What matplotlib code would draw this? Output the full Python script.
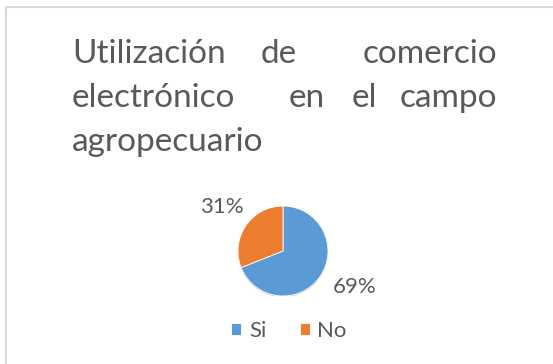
import matplotlib
matplotlib.use("Agg")
from matplotlib import pyplot as plt
from matplotlib.patches import Rectangle

# survey answers
labels = ["Si", "No"]
shares = [69, 31]
colors = ["#5B9BD5", "#ED7D31"]

# title, laid out as justified lines of words
title_lines = [
    ["Utilización", "de", "comercio"],
    ["electrónico", "en", "el", "campo"],
    ["agropecuario"],
]

TEXT = "#595959"
W, H = 553, 364

fig = plt.figure(figsize=(W / 100, H / 100), dpi=100)
fig.patch.set_facecolor("white")

# chart frame (runs off the right and bottom edges)
fig.patches.append(Rectangle((6 / W, -0.1), 1.2, 1 - 7 / H + 0.1,
                             transform=fig.transFigure, fill=False,
                             edgecolor="#D9D9D9", linewidth=1.5))

def px(x, y):
    return x / W, 1 - y / H

# word x positions per line (left edge, centers, right edge)
word_x = [
    [72, 279, 497],
    [72, 307, 364, 497],
    [72],
]
baselines = [63, 107, 151]
for words, xs, base in zip(title_lines, word_x, baselines):
    for i, (w, x) in enumerate(zip(words, xs)):
        if i == 0:
            ha = "left"
        elif i == len(words) - 1:
            ha = "right"
        else:
            ha = "center"
        fx, fy = px(x, base)
        fig.text(fx, fy, w, ha=ha, va="baseline", fontsize=24,
                 family="Lato", color=TEXT)

# pie
cx, cy, r = 283, 251, 45
ax = fig.add_axes([(cx - r) / W, 1 - (cy + r) / H, 2 * r / W, 2 * r / H])
# faint drop shadow under the pie
ax.add_patch(plt.Circle((0.0, -0.025), 1.0, color="#2F4F6F", alpha=0.3,
                        linewidth=0))
wedges, _ = ax.pie(shares, colors=colors, startangle=90, counterclock=False,
                   wedgeprops=dict(edgecolor="white", linewidth=0.6))
ax.set_xlim(-1, 1)
ax.set_ylim(-1, 1)
ax.set_aspect("equal")

label_pos = [(1.6, -0.8), (-1.36, 0.98)]
for s, (lx, ly) in zip(shares, label_pos):
    ax.text(lx, ly, f"{s}%", ha="center", va="center",
            family="Lato", fontsize=16, color=TEXT)

# legend
leg = fig.legend(wedges, labels, loc="center", bbox_to_anchor=px(289, 331),
                 ncol=2, frameon=False, handlelength=0.45,
                 handleheight=0.45, handletextpad=0.35, columnspacing=1.5,
                 prop=dict(family="Lato", size=16))
for t in leg.get_texts():
    t.set_color(TEXT)

fig.savefig("out.png", dpi=100)
